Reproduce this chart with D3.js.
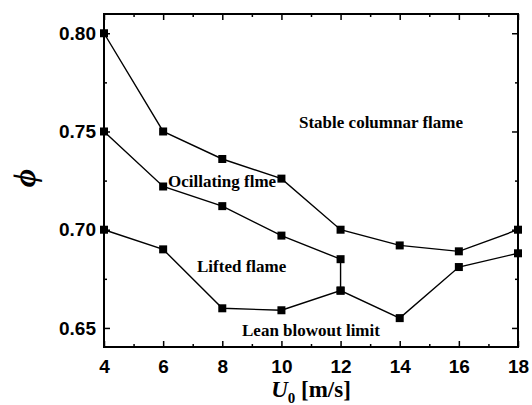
<!DOCTYPE html>
<html lang="en">
<head>
  <meta charset="UTF-8">
  <title>Flame regimes</title>
  <script src="https://d3js.org/d3.v7.min.js"></script>
  <style>
    html, body {
      margin: 0;
      padding: 0;
      background: #fff;
      overflow: hidden;
    }
    #container {
      width: 532px;
      height: 405px;
    }
  </style>
</head>
<body>
  <div id="container"></div>
  <script>
    const speeds = [4, 6, 8, 10, 12, 14, 16, 18];
    // upper boundary: stable columnar / oscillating
    const stableLimit = [0.800, 0.750, 0.736, 0.726, 0.700, 0.692, 0.689, 0.700];
    // middle boundary: oscillating / lifted (ends at U0 = 12, joins lower curve)
    const oscSpeeds = [4, 6, 8, 10, 12, 12];
    const oscLimit = [0.750, 0.722, 0.712, 0.697, 0.685, 0.669];
    // lower boundary: lean blowout
    const blowoutLimit = [0.700, 0.690, 0.660, 0.659, 0.669, 0.655, 0.681, 0.688];

    const xTicks = [4, 6, 8, 10, 12, 14, 16, 18];
    const yTicks = [0.65, 0.70, 0.75, 0.80];

    const width = 532, height = 405;
    const margin = {top: 14, right: 14, bottom: 58, left: 104};

    const svg = d3.select('#container').append('svg')
      .attr('width', width)
      .attr('height', height);

    const x = d3.scaleLinear()
      .domain([4, 18])
      .range([margin.left, width - margin.right]);
    const y = d3.scaleLinear()
      .domain([0.6403, 0.8098])
      .range([height - margin.bottom, margin.top]);

    const plotH = height - margin.top - margin.bottom;
    const plotW = width - margin.left - margin.right;

    // minor ticks
    const xMinor = d3.range(5, 18, 2);
    const yMinor = [0.675, 0.725, 0.775];

    const tickFont = 'bold 19px "Liberation Sans", Arial, sans-serif';

    svg.append('g')
      .attr('transform', `translate(0,${height - margin.bottom})`)
      .call(d3.axisBottom(x).tickValues(xTicks).tickSize(-6).tickPadding(13).tickFormat(d3.format('d')));
    svg.append('g')
      .attr('transform', `translate(0,${height - margin.bottom})`)
      .call(d3.axisBottom(x).tickValues(xMinor).tickSize(-3).tickFormat(''));

    svg.append('g')
      .attr('transform', `translate(${margin.left},0)`)
      .call(d3.axisLeft(y).tickValues(yTicks).tickSize(-6).tickPadding(8).tickFormat(d3.format('.2f')));
    svg.append('g')
      .attr('transform', `translate(${margin.left},0)`)
      .call(d3.axisLeft(y).tickValues(yMinor).tickSize(-3).tickFormat(''));

    // top and right axes, ticks only
    svg.append('g')
      .attr('transform', `translate(0,${margin.top})`)
      .call(d3.axisTop(x).tickValues(xTicks).tickSize(-6).tickFormat(''));
    svg.append('g')
      .attr('transform', `translate(0,${margin.top})`)
      .call(d3.axisTop(x).tickValues(xMinor).tickSize(-3).tickFormat(''));
    svg.append('g')
      .attr('transform', `translate(${width - margin.right},0)`)
      .call(d3.axisRight(y).tickValues(yTicks).tickSize(-6).tickFormat(''));
    svg.append('g')
      .attr('transform', `translate(${width - margin.right},0)`)
      .call(d3.axisRight(y).tickValues(yMinor).tickSize(-3).tickFormat(''));

    svg.selectAll('.domain').remove();
    svg.selectAll('.tick line').attr('stroke', '#000').attr('stroke-width', 1.5);
    svg.selectAll('.tick text')
      .attr('fill', '#000')
      .style('font', tickFont);

    svg.append('rect')
      .attr('x', margin.left)
      .attr('y', margin.top)
      .attr('width', plotW)
      .attr('height', plotH)
      .attr('fill', 'none')
      .attr('stroke', '#000')
      .attr('stroke-width', 2);

    const line = d3.line().x(d => x(d[0])).y(d => y(d[1]));
    const series = [
      d3.zip(speeds, stableLimit),
      d3.zip(oscSpeeds, oscLimit),
      d3.zip(speeds, blowoutLimit)
    ];

    svg.selectAll('path.curve')
      .data(series)
      .join('path')
      .attr('class', 'curve')
      .attr('d', line)
      .attr('fill', 'none')
      .attr('stroke', '#000')
      .attr('stroke-width', 1.4);

    const ms = 8;
    svg.selectAll('g.pts')
      .data(series)
      .join('g')
      .attr('class', 'pts')
      .selectAll('rect')
      .data(d => d)
      .join('rect')
      .attr('x', d => x(d[0]) - ms / 2)
      .attr('y', d => y(d[1]) - ms / 2)
      .attr('width', ms)
      .attr('height', ms)
      .attr('fill', '#000');

    // region labels
    const serif = '"Liberation Serif", "Times New Roman", serif';
    const labels = [
      {t: 'Stable columnar flame', x: 299, y: 128},
      {t: 'Ocillating flme', x: 168, y: 187},
      {t: 'Lifted flame', x: 197, y: 272},
      {t: 'Lean blowout limit', x: 242, y: 336}
    ];
    svg.selectAll('text.region')
      .data(labels)
      .join('text')
      .attr('class', 'region')
      .attr('x', d => d.x)
      .attr('y', d => d.y)
      .style('font-family', serif)
      .style('font-weight', 'bold')
      .style('font-size', '17px')
      .text(d => d.t);

    // axis titles
    const xt = svg.append('text')
      .attr('x', 311)
      .attr('y', 397)
      .attr('text-anchor', 'middle')
      .style('font-family', serif)
      .style('font-weight', 'bold')
      .style('font-size', '23px');
    xt.append('tspan').style('font-style', 'italic').text('U');
    xt.append('tspan').attr('dy', 6).style('font-size', '15px').text('0');
    xt.append('tspan').attr('dy', -6).text(' [m/s]');

    svg.append('text')
      .attr('transform', 'translate(35,178) rotate(-90)')
      .attr('text-anchor', 'middle')
      .style('font-family', serif)
      .style('font-style', 'italic')
      .style('font-weight', 'bold')
      .style('font-size', '32px')
      .text('\u03D5');
  </script>
</body>
</html>
